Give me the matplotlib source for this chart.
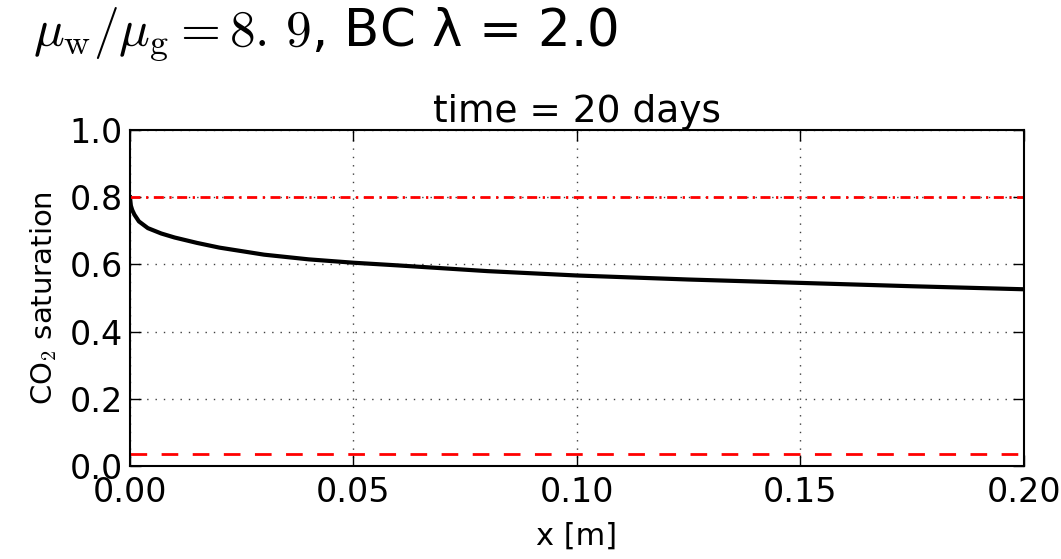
import numpy as np
import matplotlib
matplotlib.use('Agg')
import matplotlib.pyplot as plt

plt.rcParams['mathtext.fontset'] = 'cm'

# --------------------------------------------
# Saturation profile
# --------------------------------------------
x = np.array([0.0, 0.0002, 0.0005, 0.001, 0.002, 0.004, 0.007, 0.01, 0.015,
              0.02, 0.03, 0.04, 0.05, 0.06, 0.08, 0.10, 0.125, 0.15, 0.175, 0.20])
s_co2 = np.array([0.80, 0.775, 0.762, 0.748, 0.728, 0.708, 0.692, 0.68, 0.664,
                  0.65, 0.629, 0.615, 0.605, 0.597, 0.58, 0.567, 0.555, 0.545, 0.535, 0.526])

s_max = 0.8      # 1 - residual water
s_res = 0.035    # residual CO2

fig = plt.figure(figsize=(10.61, 5.59), dpi=100)
ax = fig.add_axes([0.1225, 0.1664, 0.8425, 0.601])

ax.plot(x, s_co2, color='black', lw=3)
ax.axhline(s_max, color='red', lw=2, dashes=(3.6, 2, 0.8, 2))
ax.axhline(s_res, color='red', lw=2, dashes=(6, 5.2))

ax.set_xlim(0, 0.2)
ax.set_ylim(0, 1.0)
ax.set_xticks([0.0, 0.05, 0.10, 0.15, 0.20])
ax.set_xticklabels(['0.00', '0.05', '0.10', '0.15', '0.20'])
ax.set_yticks([0.0, 0.2, 0.4, 0.6, 0.8, 1.0])
ax.grid(True, color='0.25', lw=1, dashes=(1, 5))
ax.tick_params(direction='in', top=True, right=True, length=8, width=1, labelsize=24, pad=5)
ax.tick_params(axis='x', pad=7)
for sp in ax.spines.values():
    sp.set_linewidth(1.5)

ax.set_xlabel('x [m]', fontsize=22, labelpad=9)
ax.set_ylabel(r'CO$_2$ saturation', fontsize=21, labelpad=8)
ax.set_title('time = 20 days', fontsize=27, pad=6)

fig.text(0.031, 0.937, r'$\mu_{\rm w}/\mu_{\rm g} = 8.\,9$, BC λ = 2.0',
         fontsize=37, ha='left', va='center')

fig.savefig('out.png', dpi=100)
